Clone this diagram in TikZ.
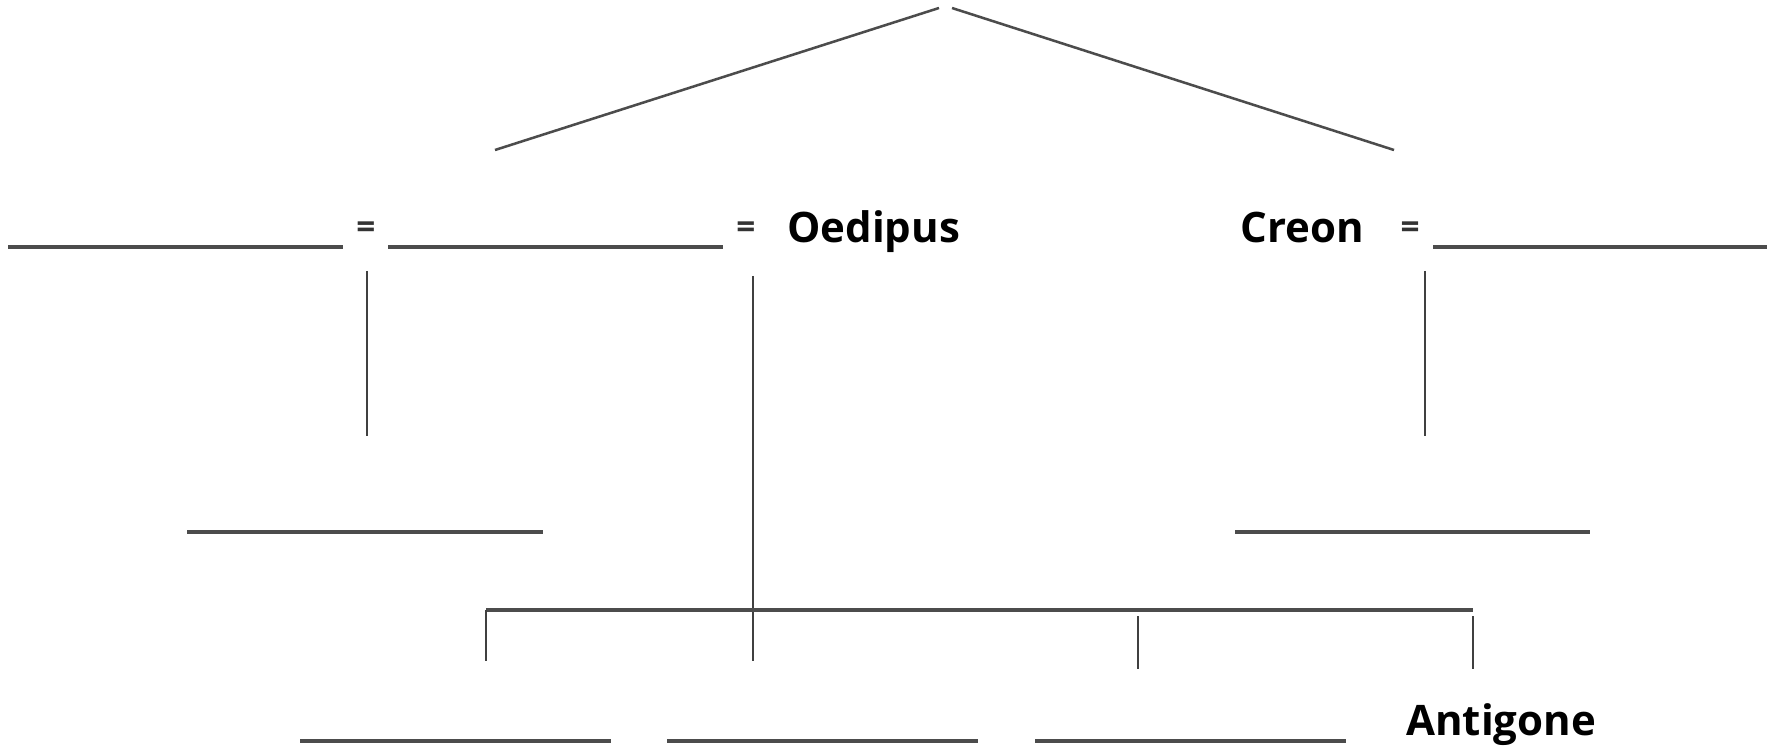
\documentclass[tikz,border=0pt]{standalone}
\usepackage{fontspec}
\setmainfont{Open Sans}
\begin{document}
\begin{tikzpicture}[x=0.75pt,y=-0.75pt,
  blank/.style={draw=black!70,line width=2.5pt},
  link/.style={draw=black!75,line width=1.6pt},
  diag/.style={draw=black!70,line width=1.9pt},
  pname/.style={font=\fontsize{31.5pt}{36pt}\selectfont\bfseries,inner sep=0pt,anchor=base west},
  eqsign/.style={font=\fontsize{25pt}{28pt}\selectfont\bfseries,inner sep=0pt,text=black!80}]
\useasboundingbox (0,0) rectangle (1771,752);
% top diagonals
\coordinate (tl) at (939,8);
\coordinate (tr) at (952,8);
\coordinate (dl) at (495,150);
\coordinate (dr) at (1394,150);
\draw[diag] (dl) -- (tl);
\draw[diag] (tr) -- (dr);
% names
\node[pname] (oed) at (787,243) {Oedipus};
\node[pname] (cre) at (1240,243) {Creon};
\node[pname] (ant) at (1406,735) {Antigone};
% equals signs
\node[eqsign] (eq1) at (366,230) {=};
\node[eqsign] (eq2) at (746,230) {=};
\node[eqsign] (eq3) at (1410,230) {=};
% top row blanks
\coordinate (b1a) at (8,247);   \coordinate (b1b) at (343,247);
\coordinate (b2a) at (388,247); \coordinate (b2b) at (723,247);
\coordinate (b3a) at (1433,247);\coordinate (b3b) at (1767,247);
\draw[blank] (b1a) -- (b1b);
\draw[blank] (b2a) -- (b2b);
\draw[blank] (b3a) -- (b3b);
% verticals from marriages
\coordinate (v1a) at (367,271); \coordinate (v1b) at (367,436);
\coordinate (v2a) at (753,276); \coordinate (v2b) at (753,661);
\coordinate (v3a) at (1425,271);\coordinate (v3b) at (1425,436);
\draw[link] (v1a) -- (v1b);
\draw[link] (v2a) -- (v2b);
\draw[link] (v3a) -- (v3b);
% middle blanks
\coordinate (m1a) at (187,532); \coordinate (m1b) at (543,532);
\coordinate (m2a) at (1235,532);\coordinate (m2b) at (1590,532);
\draw[blank] (m1a) -- (m1b);
\draw[blank] (m2a) -- (m2b);
% children bracket
\coordinate (ka) at (486,610); \coordinate (kb) at (1473,610);
\draw[blank] (ka) -- (kb);
\coordinate (c1b) at (486,661);
\coordinate (c3a) at (1138,616); \coordinate (c3b) at (1138,669);
\coordinate (c4a) at (1473,616); \coordinate (c4b) at (1473,669);
\draw[link] (ka) -- (c1b);
\draw[link] (c3a) -- (c3b);
\draw[link] (c4a) -- (c4b);
% bottom blanks
\coordinate (l1a) at (300,741); \coordinate (l1b) at (611,741);
\coordinate (l2a) at (667,741); \coordinate (l2b) at (978,741);
\coordinate (l3a) at (1035,741);\coordinate (l3b) at (1346,741);
\draw[blank] (l1a) -- (l1b);
\draw[blank] (l2a) -- (l2b);
\draw[blank] (l3a) -- (l3b);
\end{tikzpicture}
\end{document}
